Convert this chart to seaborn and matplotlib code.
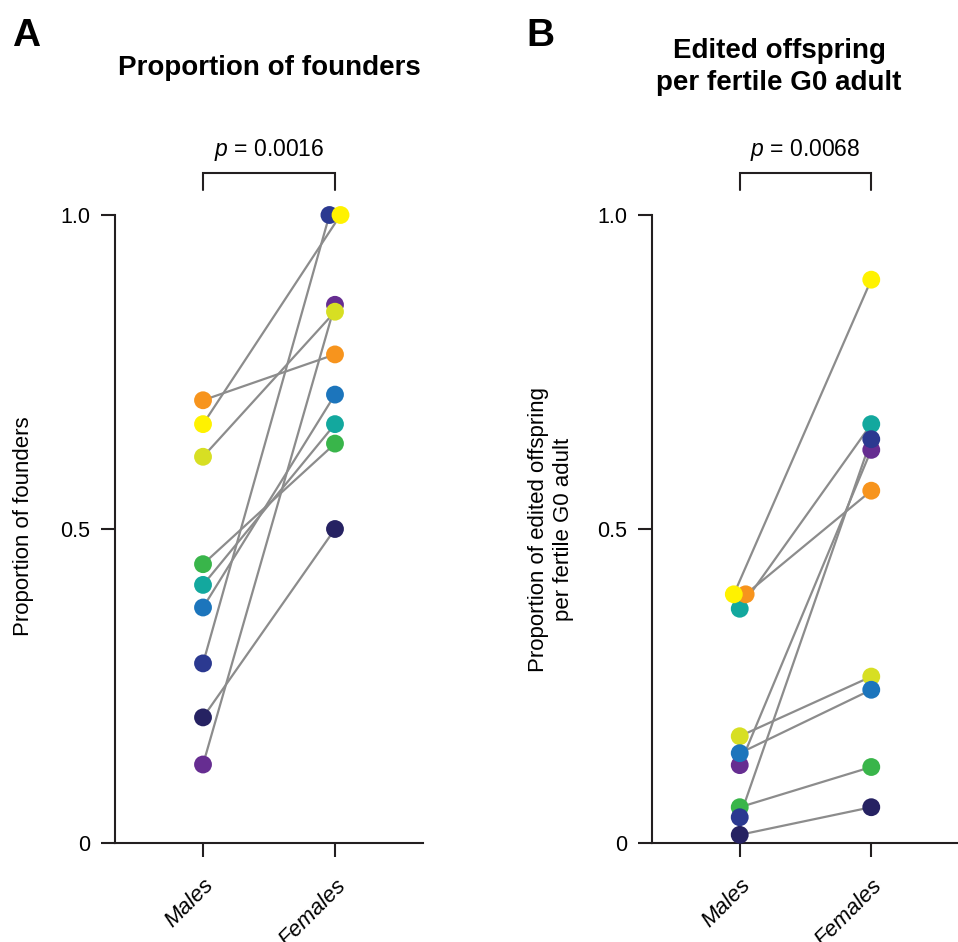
import numpy as np
import pandas as pd
import matplotlib
matplotlib.use("Agg")
import matplotlib.pyplot as plt
import seaborn as sns

# ---------------- data ----------------
sexes = ["Males", "Females"]
series = ["Orange", "Yellow", "Lime", "Green", "Teal", "Blue", "Dark blue", "Navy", "Purple"]
series_colors = ["#f7941d", "#fff200", "#d7df23", "#39b54a", "#13a89e",
                 "#1c75bc", "#2b3990", "#262262", "#662d91"]

founders_males = [0.705, 0.667, 0.615, 0.444, 0.411, 0.375, 0.286, 0.200, 0.125]
founders_females = [0.778, 1.000, 0.846, 0.636, 0.667, 0.714, 1.000, 0.500, 0.857]

offspring_males = [0.396, 0.396, 0.170, 0.057, 0.373, 0.143, 0.041, 0.013, 0.124]
offspring_females = [0.561, 0.897, 0.265, 0.121, 0.667, 0.244, 0.643, 0.057, 0.626]

p_values = ["0.0016", "0.0068"]
ytick_vals = [0, 0.5, 1.0]
ytick_labels = ["0", "0.5", "1.0"]

# ---------------- style ----------------
sns.set_style("ticks")
plt.rcParams["font.family"] = ["Liberation Sans", "DejaVu Sans"]
plt.rcParams["mathtext.fontset"] = "custom"
plt.rcParams["mathtext.it"] = "Liberation Sans:italic"
plt.rcParams["mathtext.rm"] = "Liberation Sans"
plt.rcParams["text.color"] = "black"
plt.rcParams["axes.labelcolor"] = "black"
plt.rcParams["xtick.labelcolor"] = "black"
plt.rcParams["ytick.labelcolor"] = "black"

INK = "#231f20"
GRAY = "#8c8c8c"
draw_order = ["Purple", "Teal", "Green", "Dark blue", "Orange", "Yellow", "Lime", "Blue", "Navy"]
palette = dict(zip(series, series_colors))

# small horizontal spread for overlapping (tied) points
dodge_A = {("Females", "Dark blue"): -0.042, ("Females", "Yellow"): 0.042}
dodge_B = {("Males", "Yellow"): -0.045, ("Males", "Orange"): 0.045}

fig = plt.figure(figsize=(9.58, 9.42), dpi=100)
H = 942.0
W = 958.0
ax_bottom = 1 - 843 / H
ax_height = (843 - 215) / H
axA = fig.add_axes([115 / W, ax_bottom, 308 / W, ax_height])
axB = fig.add_axes([652 / W, ax_bottom, 307 / W, ax_height])


def panel(ax, males, females, dodge, pval):
    df = pd.DataFrame({
        "series": series * 2,
        "sex": ["Males"] * len(series) + ["Females"] * len(series),
        "value": list(males) + list(females),
    })
    df["x"] = df["sex"].map({s: i for i, s in enumerate(sexes)}).astype(float)
    df["x"] += [dodge.get((sx, se), 0.0) for sx, se in zip(df["sex"], df["series"])]

    sns.lineplot(data=df, x="x", y="value", units="series", estimator=None,
                 color=GRAY, lw=1.6, ax=ax, legend=False, clip_on=False, zorder=2)
    df2 = df.assign(rank=df["series"].map(draw_order.index)).sort_values("rank", kind="stable")
    sns.scatterplot(data=df2, x="x", y="value", hue="series", palette=palette,
                    s=165, linewidth=0, legend=False, ax=ax, clip_on=False, zorder=3)

    ax.set_xlim(-0.667, 1.667)
    ax.set_ylim(0, 1)
    ax.set_xticks([0, 1])
    ax.set_xticklabels(sexes, rotation=45, ha="right", va="top",
                       rotation_mode="anchor", fontstyle="italic", fontsize=16)
    ax.set_yticks(ytick_vals)
    ax.set_yticklabels(ytick_labels, fontsize=15.5)
    ax.set_xlabel("")
    ax.set_ylabel("")
    for side in ["top", "right"]:
        ax.spines[side].set_visible(False)
    for side in ["left", "bottom"]:
        ax.spines[side].set_linewidth(1.5)
        ax.spines[side].set_color(INK)
    ax.tick_params(axis="both", length=10, width=1.5, color=INK, labelcolor="black", direction="out")
    ax.tick_params(axis="y", pad=8)
    ax.tick_params(axis="x", pad=13)

    # significance bracket
    ax.plot([0, 0, 1, 1], [1.040, 1.067, 1.067, 1.040], color=INK, lw=1.5,
            clip_on=False, solid_joinstyle="miter")
    ax.text(0.5, 1.103, r"$p$ = " + pval, ha="center", va="center", fontsize=16.5)


panel(axA, founders_males, founders_females, dodge_A, p_values[0])
panel(axB, offspring_males, offspring_females, dodge_B, p_values[1])

# titles and panel letters
fig.text(12 / W, 1 - 18 / H, "A", fontsize=28, fontweight="bold", ha="left", va="top")
fig.text(526 / W, 1 - 18 / H, "B", fontsize=28, fontweight="bold", ha="left", va="top")
fig.text(269 / W, 1 - 68 / H, "Proportion of founders", fontsize=20, fontweight="bold",
         ha="center", va="center")
fig.text(779 / W, 1 - 67 / H, "Edited offspring\nper fertile G0 adult", fontsize=20,
         fontweight="bold", ha="center", va="center", linespacing=1.25)

# y labels
fig.text(24 / W, 1 - 526 / H, "Proportion of founders", rotation=90, fontsize=16,
         ha="center", va="center")
fig.text(551 / W, 1 - 529 / H, "Proportion of edited offspring\nper fertile G0 adult",
         rotation=90, fontsize=16, ha="center", va="center", linespacing=1.25)

fig.savefig("out.png", dpi=100)
